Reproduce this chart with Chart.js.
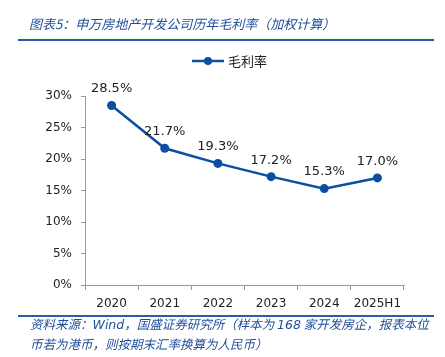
<!DOCTYPE html>
<html>
<head>
<meta charset="utf-8">
<script src="https://cdn.jsdelivr.net/npm/chart.js@4"></script>
<style>
  html, body { margin:0; padding:0; background:#fff; }
  #wrap { position:relative; width:445px; height:357px; overflow:hidden; }
  #title { position:absolute; left:29px; top:14px; font: italic 13px "Noto Sans CJK SC", sans-serif; color:#1f4e9a; white-space:nowrap; }
  .rule { position:absolute; left:18px; width:416px; height:2px; background:#2a5caa; }
  #src { position:absolute; left:30px; top:314px; font: italic 12.5px "Noto Sans CJK SC", sans-serif; color:#1f4e9a; line-height:19px; white-space:nowrap; }
  #chartBox { position:absolute; left:0; top:0; width:445px; height:357px; }
</style>
</head>
<body>
<div id="wrap">
  <div id="chartBox"><canvas id="c" width="445" height="357"></canvas></div>
  <div id="title">图表5：申万房地产开发公司历年毛利率（加权计算）</div>
  <div class="rule" style="top:39px"></div>
  <div class="rule" style="top:315px"></div>
  <div id="src">资料来源：<span style="font-family:'DejaVu Sans'">Wind</span>，国盛证券研究所（样本为 <span style="font-family:'DejaVu Sans'">168</span> 家开发房企，报表本位<br>币若为港币，则按期末汇率换算为人民币）</div>
</div>
<script>
const categories = ["2020", "2021", "2022", "2023", "2024", "2025H1"];
const grossMargin = [28.5, 21.7, 19.3, 17.2, 15.3, 17.0];
const seriesName = "毛利率";
const yTicks = [0, 5, 10, 15, 20, 25, 30];

const lineColor = "#0b4ea2";

const labelPlugin = {
  id: "labelsAndLegend",
  afterDatasetsDraw(chart) {
    const ctx = chart.ctx;
    const meta = chart.getDatasetMeta(0);
    ctx.save();
    ctx.font = '13px "DejaVu Sans", sans-serif';
    ctx.fillStyle = "#222";
    ctx.textAlign = "center";
    ctx.textBaseline = "bottom";
    meta.data.forEach((pt, i) => {
      ctx.fillText(grossMargin[i].toFixed(1) + "%", pt.x, pt.y - 10);
    });
    // legend
    const lx = 192, ly = 61;
    ctx.strokeStyle = lineColor;
    ctx.lineWidth = 2.5;
    ctx.beginPath(); ctx.moveTo(lx, ly); ctx.lineTo(lx + 32, ly); ctx.stroke();
    ctx.fillStyle = lineColor;
    ctx.beginPath(); ctx.arc(lx + 16, ly, 4, 0, Math.PI * 2); ctx.fill();
    ctx.fillStyle = "#222";
    ctx.textAlign = "left";
    ctx.textBaseline = "middle";
    ctx.font = '13px "Noto Sans CJK SC", sans-serif';
    ctx.fillText(chart.data.datasets[0].label, lx + 36, ly);
    ctx.restore();
  }
};

new Chart(document.getElementById("c"), {
  type: "line",
  data: {
    labels: categories,
    datasets: [{
      label: seriesName,
      data: grossMargin,
      borderColor: lineColor,
      backgroundColor: lineColor,
      borderWidth: 2.5,
      pointRadius: 4.5,
      pointHoverRadius: 4.5,
      pointBackgroundColor: lineColor,
      pointBorderWidth: 0,
      tension: 0
    }]
  },
  options: {
    responsive: false,
    animation: false,
    layout: { padding: { top: 96, right: 41, left: 0, bottom: 0 } },
    plugins: { legend: { display: false }, tooltip: { enabled: false } },
    scales: {
      x: {
        offset: true,
        grid: { display: true, drawOnChartArea: false, offset: true, tickLength: 5, color: "#999" },
        border: { color: "#999", width: 1 },
        ticks: { color: "#222", font: { family: "DejaVu Sans", size: 12 }, padding: 7, maxRotation: 0 },
        afterFit(s) { s.height = 72; }
      },
      y: {
        min: 0, max: 30,
        afterBuildTicks(s) { s.ticks = yTicks.map(v => ({ value: v })); },
        grid: { display: true, drawOnChartArea: false, tickLength: 4, color: "#999" },
        border: { color: "#999", width: 1 },
        ticks: { color: "#222", font: { family: "DejaVu Sans", size: 12 }, padding: 9, callback: v => v + "%" },
        afterFit(s) { s.width = 85; }
      }
    }
  },
  plugins: [labelPlugin]
});
</script>
</body>
</html>
